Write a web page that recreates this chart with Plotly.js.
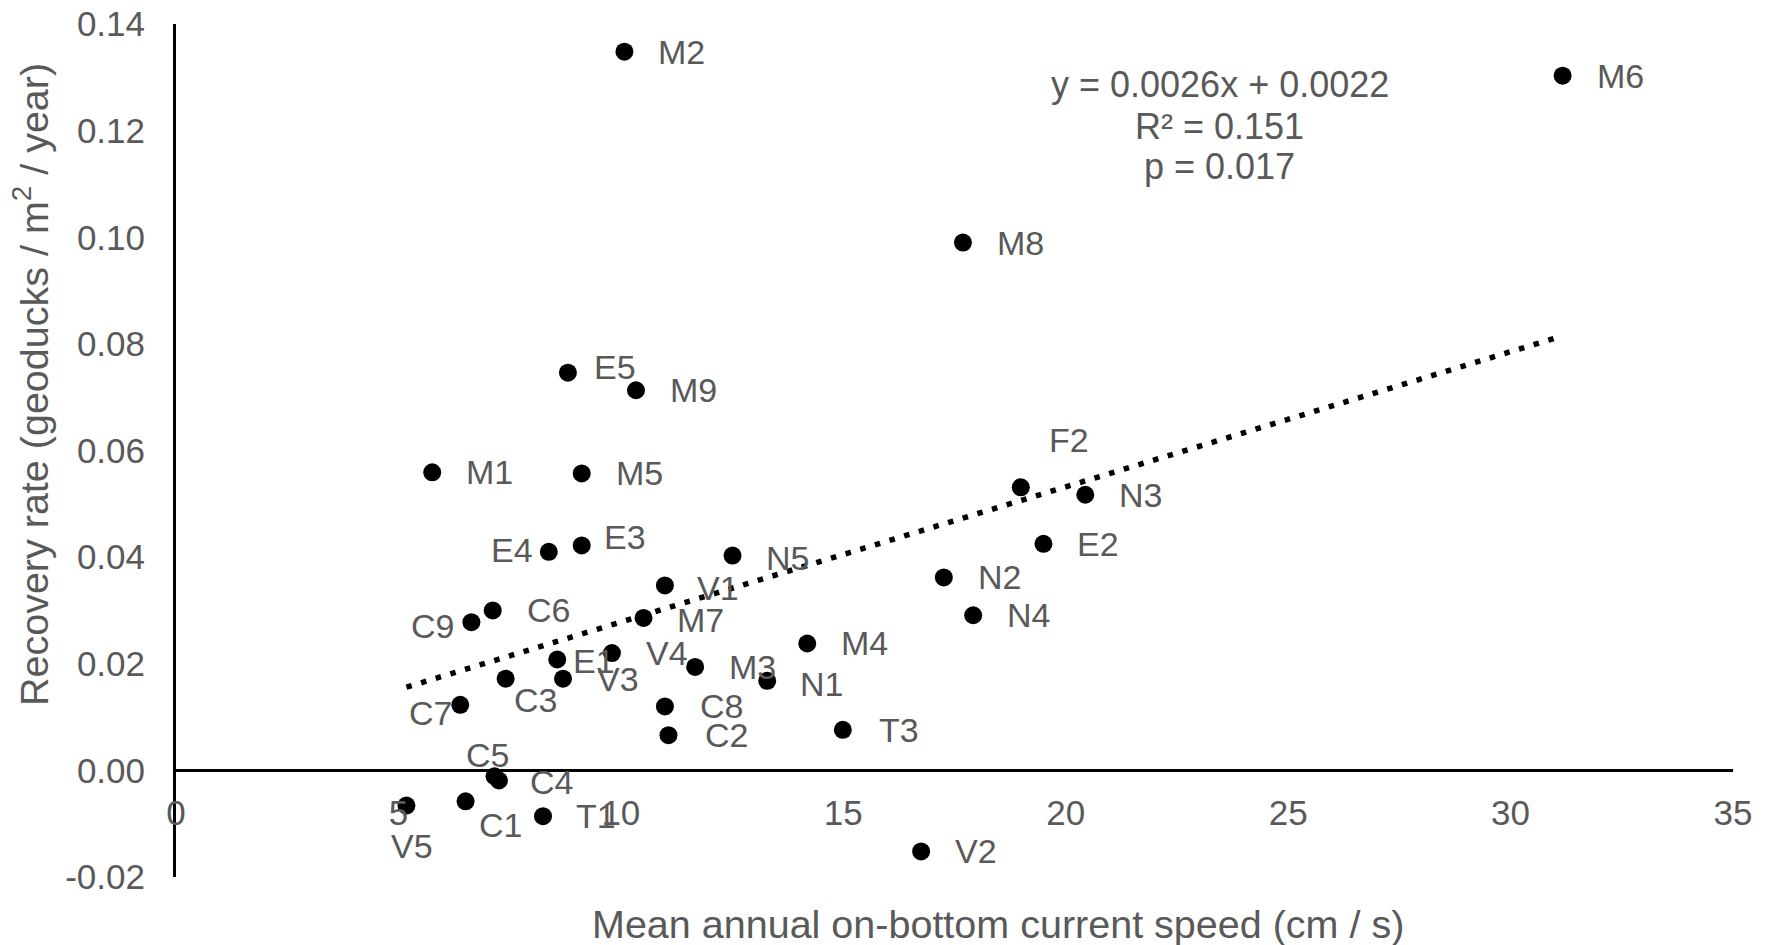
<!DOCTYPE html>
<html>
<head>
<meta charset="utf-8">
<script src="https://cdn.plot.ly/plotly-3.0.1.min.js"></script>
<style>html,body{margin:0;padding:0;background:#fff;}#chart{width:1775px;height:945px;}</style>
</head>
<body>
<div id="chart"></div>
<script>
// ---- data ----
const siteLabels = ['M2','M6','M8','E5','M9','M1','M5','F2','N3','E2','E4','E3','N5','V1','N2','C6','C9','M7','N4','M4','E1','V4','M3','V3','C3','N1','C7','C8','C2','T3','C5','C4','V5','C1','T1','V2'];
const currentSpeed = [10.08, 31.17, 17.69, 8.81, 10.34, 5.76, 9.12, 18.99, 20.44, 19.50, 8.38, 9.12, 12.51, 10.99, 17.26, 7.12, 6.64, 10.51, 17.92, 14.19, 8.57, 9.80, 11.67, 8.70, 7.41, 13.29, 6.39, 10.99, 11.07, 14.99, 7.16, 7.26, 5.18, 6.51, 8.25, 16.75];
const recoveryRate = [0.1348, 0.1303, 0.0990, 0.0746, 0.0713, 0.0559, 0.0557, 0.0531, 0.0517, 0.0425, 0.0410, 0.0422, 0.0403, 0.0347, 0.0362, 0.0300, 0.0278, 0.0286, 0.0291, 0.0238, 0.0208, 0.0220, 0.0194, 0.0172, 0.0172, 0.0168, 0.0123, 0.0120, 0.0066, 0.0076, -0.0011, -0.0019, -0.0066, -0.0058, -0.0086, -0.0152];
// linear trendline as drawn in the reference (end points)
const trendX = [5.18, 31.17];
const trendY = [0.0156, 0.0815];
const xTickVals = [0, 5, 10, 15, 20, 25, 30, 35];
const xTickLabels = ['0', '5', '10', '15', '20', '25', '30', '35'];
const yTickVals = [-0.02, 0, 0.02, 0.04, 0.06, 0.08, 0.10, 0.12, 0.14];
const yTickLabels = ['-0.02', '0.00', '0.02', '0.04', '0.06', '0.08', '0.10', '0.12', '0.14'];
const eqLines = ['y = 0.0026x + 0.0022', 'R² = 0.151', 'p = 0.017'];

// ---- label placement (styling) ----
const defaultPlace = ['left', 32, 0];
const labelPlace = {
  E5: ['left', 24, 6],
  F2: ['left', 26, 47],
  E4: ['right', -14, 2],
  E3: ['left', 20, 8],
  N5: ['left', 31, -2],
  V1: ['left', 30, -3],
  C9: ['right', -15, -4],
  M7: ['left', 31, -2],
  E1: ['left', 14, -2],
  C3: ['left', 6, -21],
  N1: ['left', 31, -3],
  C7: ['right', -6, -8],
  C8: ['left', 33, 0],
  C2: ['left', 35, 0],
  T3: ['left', 34, 0],
  C5: ['center', -7, 21],
  C4: ['left', 29, -1],
  V5: ['center', 6, -40],
  C1: ['left', 11, -24],
  T1: ['left', 31, 0]
};

const grey = '#595959';
const fontFam = '"Liberation Sans", Arial, sans-serif';

const traces = [
  {
    x: trendX, y: trendY, mode: 'lines', type: 'scatter',
    line: {color: '#000', width: 5.5, dash: '5.5px,9.8px'},
    hoverinfo: 'skip', showlegend: false
  },
  {
    x: currentSpeed, y: recoveryRate, mode: 'markers', type: 'scatter',
    marker: {color: '#000', size: 18, line: {width: 0}},
    text: siteLabels, showlegend: false, cliponaxis: false
  }
];

const annotations = siteLabels.map((lab, i) => {
  const p = labelPlace[lab] || defaultPlace;
  return {
    x: currentSpeed[i], y: recoveryRate[i], xref: 'x', yref: 'y',
    text: lab, showarrow: false, xanchor: p[0], yanchor: 'middle',
    xshift: p[1], yshift: p[2],
    font: {family: fontFam, size: 34, color: grey}
  };
});

const eqY = [0.1287, 0.1208, 0.1133];
eqLines.forEach((t, i) => {
  annotations.push({
    x: 23.46, y: eqY[i], xref: 'x', yref: 'y', text: t, showarrow: false,
    xanchor: 'center', yanchor: 'middle',
    font: {family: fontFam, size: 36, color: grey}
  });
});

annotations.push({
  x: 0.528, y: 0, xref: 'paper', yref: 'paper', yanchor: 'middle', xanchor: 'center',
  yshift: -47, showarrow: false,
  text: 'Mean annual on-bottom current speed (cm / s)',
  font: {family: fontFam, size: 39.5, color: grey}
});
annotations.push({
  x: 0, y: 0.5767, xref: 'paper', yref: 'paper', xanchor: 'center', yanchor: 'middle',
  xshift: -145, showarrow: false, textangle: -90,
  text: 'Recovery rate (geoducks / m<sup>2</sup> / year)',
  font: {family: fontFam, size: 39.5, color: grey}
});

const layout = {
  width: 1775, height: 945,
  margin: {l: 176, r: 42, t: 24, b: 68, pad: 0},
  paper_bgcolor: '#fff', plot_bgcolor: '#fff',
  showlegend: false,
  font: {family: fontFam, color: grey},
  xaxis: {
    range: [0, 35], tickvals: xTickVals, ticktext: xTickLabels,
    showgrid: false, zeroline: false, showline: true, linecolor: '#000', linewidth: 3,
    ticks: '', anchor: 'free', position: 0.125, ticklabelstandoff: 11,
    tickfont: {family: fontFam, size: 35, color: grey}
  },
  yaxis: {
    range: [-0.02, 0.14], tickvals: yTickVals, ticktext: yTickLabels,
    showgrid: false, zeroline: false, showline: true, linecolor: '#000', linewidth: 3,
    ticks: '', ticklabelstandoff: 21,
    tickfont: {family: fontFam, size: 35, color: grey}
  },
  annotations: annotations
};

Plotly.newPlot('chart', traces, layout, {staticPlot: true, displayModeBar: false});
</script>
</body>
</html>
